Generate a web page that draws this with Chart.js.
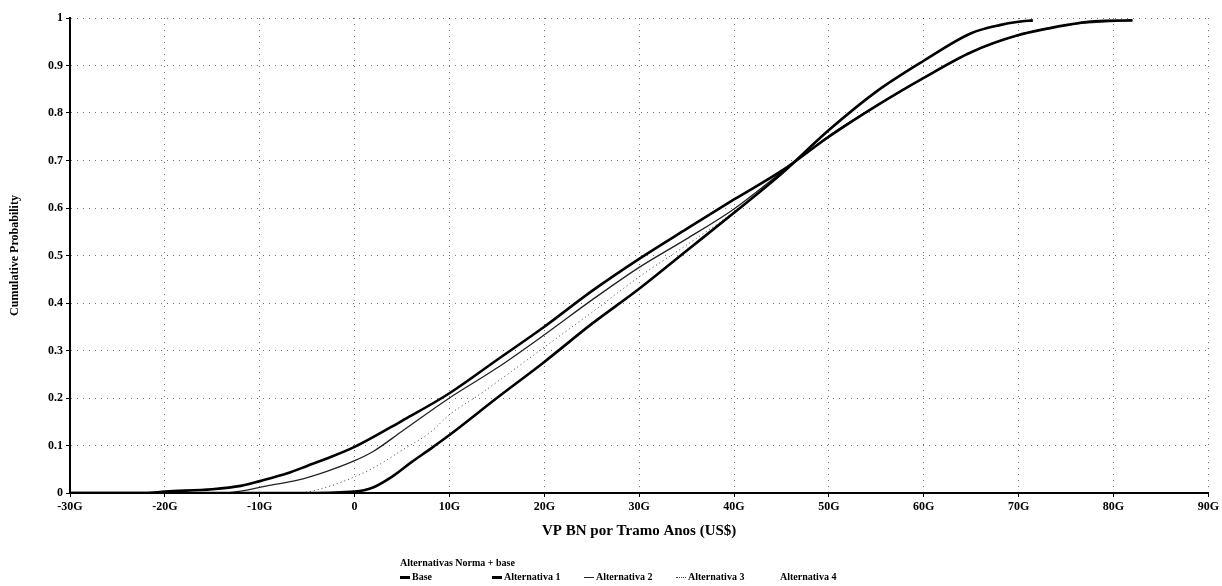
<!DOCTYPE html>
<html>
<head>
<meta charset="utf-8">
<title>VP BN por Tramo Anos</title>
<script src="https://cdn.jsdelivr.net/npm/chart.js@4.4.0/dist/chart.umd.min.js"></script>
<style>
	body { margin: 0; background: #fff; }
	#wrap { position: relative; width: 1222px; height: 586px; }
	#cdfChart { position: absolute; left: 0; top: 0; }
	#cdf-legend { position: absolute; left: 400px; top: 556px; font-family: 'Liberation Serif', serif; font-weight: bold; font-size: 10px; color: #000; line-height: 14px; white-space: nowrap; }
	#cdf-legend .row span.item { display: inline-block; width: 92px; }
	#cdf-legend .mark { display: inline-block; width: 10px; height: 0; vertical-align: middle; margin-right: 2px; }
</style>
</head>
<body>
<div id="wrap">
	<canvas id="cdfChart" width="1222" height="586"></canvas>
	<div id="cdf-legend"></div>
</div>
<script>
// valores (x en G US$, probabilidad acumulada)
var legendTitle = 'Alternativas Norma + base';
var seriesNames = ['Base', 'Alternativa 1', 'Alternativa 2', 'Alternativa 3', 'Alternativa 4'];

var baseX = [-30, -22, -20, -15, -12, -10, -7, -5, -3, 0, 5, 10, 15, 20, 25, 30, 35, 40, 45, 50, 55, 60, 65, 70, 75, 78, 82];
var baseP = [0, 0, 0.003, 0.008, 0.015, 0.025, 0.042, 0.057, 0.072, 0.097, 0.152, 0.21, 0.28, 0.35, 0.425, 0.493, 0.556, 0.618, 0.678, 0.75, 0.815, 0.874, 0.928, 0.964, 0.985, 0.993, 0.995];

var alt1X = [-30, -5, 0, 1, 2, 4, 6, 8, 10, 15, 20, 25, 30, 35, 40, 45, 50, 55, 60, 65, 68, 70, 71.5];
var alt1P = [0, 0, 0.003, 0.006, 0.012, 0.035, 0.065, 0.093, 0.122, 0.2, 0.276, 0.356, 0.43, 0.51, 0.59, 0.672, 0.764, 0.845, 0.91, 0.968, 0.985, 0.992, 0.995];

var alt2X = [-30, -14, -12, -9, -6, -3, 0, 2, 5, 10, 15, 20, 25, 30, 35, 40, 45, 50, 55, 60, 65, 70, 75, 82];
var alt2P = [0, 0, 0.004, 0.016, 0.027, 0.045, 0.068, 0.088, 0.13, 0.2, 0.263, 0.333, 0.406, 0.475, 0.535, 0.598, 0.675, 0.752, 0.815, 0.874, 0.928, 0.964, 0.985, 0.995];

var alt3X = [-30, -6, -3, 0, 2, 5, 8, 10, 13, 16, 20, 25, 30, 35, 40, 45, 50, 55, 60, 65, 68, 71.5];
var alt3P = [0, 0, 0.012, 0.034, 0.053, 0.09, 0.128, 0.165, 0.205, 0.248, 0.307, 0.38, 0.455, 0.522, 0.592, 0.672, 0.764, 0.845, 0.91, 0.968, 0.985, 0.995];

var alt4X = [];
var alt4P = [];

function pts(xs, ps) {
	var out = [];
	for (var i = 0; i < xs.length; i++) {
		out.push({x: xs[i], y: ps[i]});
	}
	return out;
}

var tickFont = {family: "'Liberation Serif', serif", weight: 'bold', size: 12};

var ctx = document.getElementById('cdfChart').getContext('2d');
var cdfChart = new Chart(ctx, {
	type: 'line',
	data: {
		datasets: [{
			label: seriesNames[0],
			data: pts(baseX, baseP),
			borderColor: '#000',
			borderWidth: 2.6
		}, {
			label: seriesNames[1],
			data: pts(alt1X, alt1P),
			borderColor: '#000',
			borderWidth: 2.6
		}, {
			label: seriesNames[2],
			data: pts(alt2X, alt2P),
			borderColor: '#222',
			borderWidth: 1.3
		}, {
			label: seriesNames[3],
			data: pts(alt3X, alt3P),
			borderColor: '#444',
			borderWidth: 1,
			borderDash: [1, 3]
		}, {
			label: seriesNames[4],
			data: pts(alt4X, alt4P),
			borderColor: 'rgba(0,0,0,0)',
			borderWidth: 1
		}]
	},
	options: {
		responsive: false,
		animation: false,
		elements: {
			point: { radius: 0 },
			line: { cubicInterpolationMode: 'monotone' }
		},
		layout: {
			padding: { left: 4, top: 18, right: 10, bottom: 41 }
		},
		plugins: {
			legend: { display: false },
			tooltip: { enabled: false }
		},
		scales: {
			x: {
				type: 'linear',
				min: -30,
				max: 90,
				afterFit: function(scale) { scale.height = 52; },
				ticks: {
					stepSize: 10,
					color: '#000',
					font: tickFont,
					padding: 3,
					maxRotation: 0,
					callback: function(v) { return v === 0 ? '0' : v + 'G'; }
				},
				grid: { color: 'rgba(0,0,0,0.55)', tickColor: '#000', tickLength: 4 },
				border: { color: '#000', width: 2, dash: [1, 5] },
				title: {
					display: true,
					text: 'VP BN por Tramo Anos (US$)',
					color: '#000',
					font: {family: "'Liberation Serif', serif", weight: 'bold', size: 15},
					padding: {top: 4, bottom: 5}
				}
			},
			y: {
				min: 0,
				max: 1,
				afterFit: function(scale) { scale.width = 66; },
				ticks: {
					stepSize: 0.1,
					color: '#000',
					font: tickFont,
					padding: 3,
					callback: function(v) { return String(Math.round(v * 10) / 10); }
				},
				grid: { color: 'rgba(0,0,0,0.55)', tickColor: '#000', tickLength: 4 },
				border: { color: '#000', width: 2, dash: [1, 5] },
				title: {
					display: true,
					text: 'Cumulative Probability',
					color: '#000',
					font: {family: "'Liberation Serif', serif", weight: 'bold', size: 12},
					padding: {top: 4, bottom: 4}
				}
			}
		}
	}
});

// leyenda en html, como la del original
function legendHtml(chart) {
	var text = [];
	text.push('<div>' + legendTitle + '</div><div class="row">');
	for (var i = 0; i < chart.data.datasets.length; i++) {
		var ds = chart.data.datasets[i];
		var style = ds.borderDash ? 'dotted' : 'solid';
		var w = Math.max(1, Math.round(ds.borderWidth));
		text.push('<span class="item"><span class="mark" style="border-top:' + w + 'px ' + style + ' ' + ds.borderColor + '"></span>' + ds.label + '</span>');
	}
	text.push('</div>');
	return text.join('');
}
document.getElementById('cdf-legend').innerHTML = legendHtml(cdfChart);
</script>
</body>
</html>
